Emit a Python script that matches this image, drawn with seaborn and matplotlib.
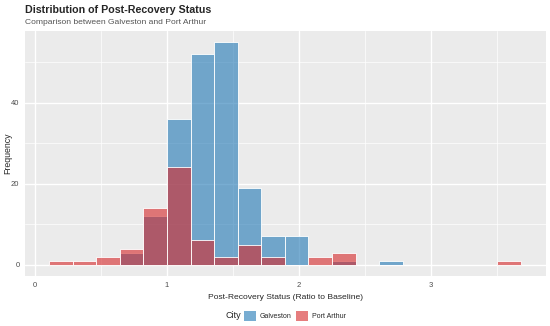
import numpy as np
import pandas as pd
import matplotlib
matplotlib.use("Agg")
import matplotlib.pyplot as plt
import seaborn as sns
from matplotlib.patches import Patch

# histogram bins
bin_start = 0.107
bin_width = 0.1786
galveston_counts = [0, 0, 0, 3, 12, 36, 52, 55, 19, 7, 7, 0, 1, 0, 1, 0, 0, 0, 0, 0]
port_arthur_counts = [1, 1, 2, 4, 14, 24, 6, 2, 5, 2, 0, 2, 3, 0, 0, 0, 0, 0, 0, 1]
cities = ["Galveston", "Port Arthur"]
city_colors = ["#1f77b4", "#d62728"]

n_bins = len(galveston_counts)
mids = bin_start + bin_width * (np.arange(n_bins) + 0.5)
df = pd.DataFrame({
    "status": np.concatenate([mids, mids]),
    "count": galveston_counts + port_arthur_counts,
    "City": [cities[0]] * n_bins + [cities[1]] * n_bins,
})

sns.set_style("darkgrid", {"axes.facecolor": "#EBEBEB", "grid.color": "white"})
plt.rcParams["font.family"] = ["Liberation Sans", "DejaVu Sans"]

fig = plt.figure(figsize=(5.5, 3.26), dpi=100)
ax = fig.add_axes([25 / 550, 1 - 276 / 326, 521 / 550, 245.5 / 326])

for city, col in zip(cities, city_colors):
    sub = df[df["City"] == city]
    sns.histplot(data=sub, x="status", weights="count", binwidth=bin_width,
                 binrange=(bin_start, bin_start + bin_width * n_bins),
                 color=col, alpha=0.6, edgecolor="white", linewidth=0.6, ax=ax)

ax.set_xlim(-0.075, 3.87)
ax.set_ylim(-2.75, 57.75)
ax.set_xticks([0, 1, 2, 3])
ax.set_yticks([0, 20, 40])
ax.set_xticks([0.5, 1.5, 2.5, 3.5], minor=True)
ax.set_yticks([10, 30, 50], minor=True)
ax.grid(which="major", color="white", linewidth=1.0)
ax.grid(which="minor", color="white", linewidth=0.5)
ax.set_axisbelow(True)
for s in ax.spines.values():
    s.set_visible(False)
ax.tick_params(which="major", length=2.5, color="#333333", labelsize=5.5,
               labelcolor="#4d4d4d", pad=1.5)
ax.tick_params(which="minor", length=0)
ax.set_xlabel("Post-Recovery Status (Ratio to Baseline)", fontsize=6.1)
ax.set_ylabel("Frequency", fontsize=6.3)
ax.xaxis.set_label_coords(0.5, -0.075)
ax.yaxis.set_label_coords(-0.025, 0.5)

fig.text(25 / 550, 1 - 10 / 326, "Distribution of Post-Recovery Status", fontsize=7.7,
         fontweight="bold", va="center", ha="left")
fig.text(25 / 550, 1 - 22.5 / 326, "Comparison between Galveston and Port Arthur",
         fontsize=6.1, color="#555555", va="center", ha="left")

handles = [Patch(facecolor=c, alpha=0.6, edgecolor="none") for c in city_colors]
fig.text(225.5 / 550, 1 - 316 / 326, "City", fontsize=6.5, va="center", ha="left")
fig.legend(handles, cities, ncol=2, loc="center left",
           bbox_to_anchor=(244 / 550, 1 - 316 / 326), frameon=False, fontsize=5.0,
           handlelength=1.7, handleheight=1.7, columnspacing=0.7, handletextpad=0.55,
           borderpad=0.0, borderaxespad=0)

fig.savefig("out.png", dpi=100)
